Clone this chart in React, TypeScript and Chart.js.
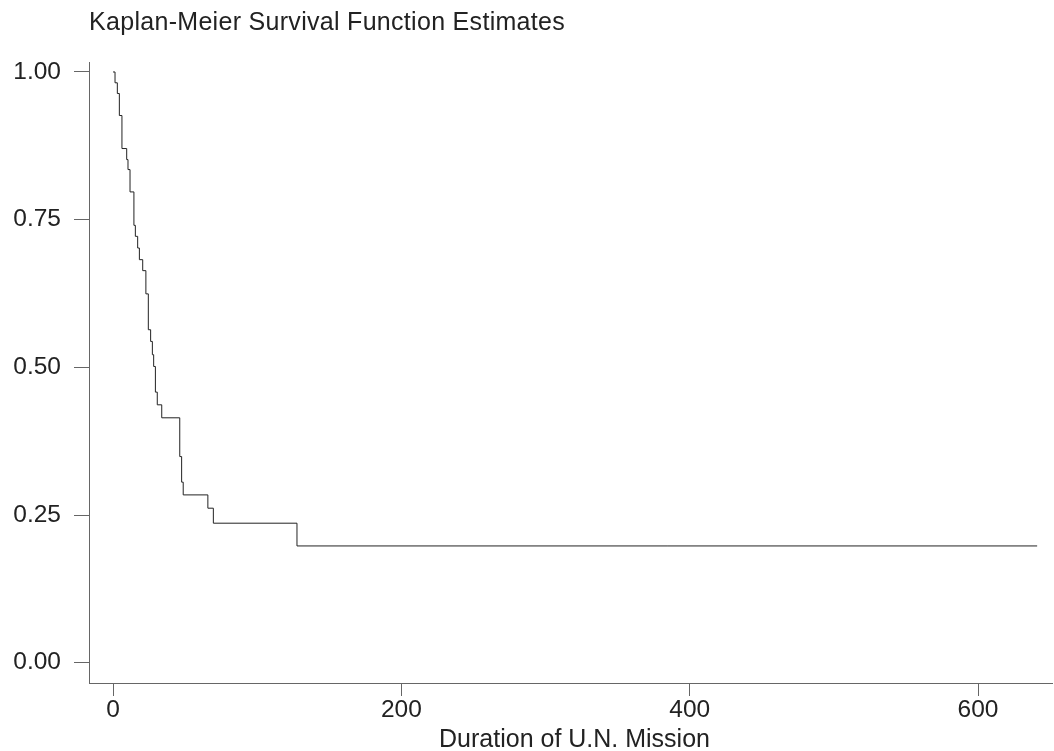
import React, { useEffect, useRef } from "react";
import { Chart, registerables } from "chart.js";

Chart.register(...registerables);

const chartTitle = "Kaplan-Meier Survival Function Estimates";
const xAxisTitle = "Duration of U.N. Mission";

const durations = [
  0, 1.4, 3, 4.4, 6.2, 9.5, 10.4, 11.8, 14.5, 15.5, 17.1, 18.3, 20.6, 22.8,
  24.5, 26.1, 27.3, 28.2, 29.4, 30.7, 33.8, 46.3, 47.6, 48.7, 65.8, 69.6,
  127.6, 641,
];
const survival = [
  1.0, 0.9817, 0.9636, 0.9263, 0.8704, 0.8517, 0.8348, 0.797, 0.7404, 0.7218,
  0.702, 0.6823, 0.6637, 0.6244, 0.5637, 0.5439, 0.5214, 0.5015, 0.4581,
  0.4366, 0.4146, 0.349, 0.3057, 0.2841, 0.2616, 0.2362, 0.1977, 0.1977,
];
const xTicks = [0, 200, 400, 600];
const yTicks = [0, 0.25, 0.5, 0.75, 1.0];

const FONT = '"Liberation Sans", Arial, Helvetica, sans-serif';

const titlePlugin = {
  id: "kmTitles",
  afterDraw(chart: any) {
    const { ctx, chartArea } = chart;
    ctx.save();
    ctx.fillStyle = "#222";
    ctx.textBaseline = "alphabetic";
    // chart title, left-aligned with the y axis
    ctx.font = `25px ${FONT}`;
    try {
      (ctx as any).letterSpacing = "0.3px";
    } catch (e) {}
    ctx.textAlign = "left";
    ctx.fillText(chartTitle, chartArea.left, 30);
    try {
      (ctx as any).letterSpacing = "0px";
    } catch (e) {}
    // x axis title
    ctx.font = `25px ${FONT}`;
    ctx.textAlign = "center";
    ctx.fillText(xAxisTitle, (chartArea.left + chartArea.right) / 2 + 4, 747);
    ctx.restore();
  },
};

export default function App() {
  const ref = useRef<HTMLCanvasElement | null>(null);

  useEffect(() => {
    if (!ref.current) return;
    const points = durations.map((t, i) => ({ x: t, y: survival[i] }));
    const chart = new Chart(ref.current, {
      type: "line",
      data: {
        datasets: [
          {
            data: points,
            stepped: "before",
            borderColor: "#222",
            borderWidth: 1,
            pointRadius: 0,
            fill: false,
          },
        ],
      },
      options: {
        animation: false,
        responsive: false,
        layout: { padding: { top: 62, right: 2, left: 0, bottom: 0 } },
        plugins: {
          legend: { display: false },
          tooltip: { enabled: false },
          title: { display: false },
        },
        scales: {
          x: {
            type: "linear",
            min: -16.65,
            max: 651.3,
            afterBuildTicks: (scale: any) => {
              scale.ticks = xTicks.map((v) => ({ value: v }));
            },
            afterFit: (scale: any) => {
              scale.height = 68;
            },
            border: { display: true, color: "#666", width: 1 },
            grid: {
              drawOnChartArea: false,
              drawTicks: true,
              tickLength: 13,
              tickColor: "#666",
              color: "#666",
            },
            ticks: {
              color: "#222",
              font: { family: FONT, size: 24.5 },
              padding: 0,
              maxRotation: 0,
              autoSkip: false,
              callback: (v: any) => String(v),
            },
          },
          y: {
            type: "linear",
            min: -0.0343,
            max: 1.0169,
            afterBuildTicks: (scale: any) => {
              scale.ticks = yTicks.map((v) => ({ value: v }));
            },
            afterFit: (scale: any) => {
              scale.width = 89;
            },
            border: { display: true, color: "#666", width: 1 },
            grid: {
              drawOnChartArea: false,
              drawTicks: true,
              tickLength: 15,
              tickColor: "#666",
              color: "#666",
            },
            ticks: {
              color: "#222",
              font: { family: FONT, size: 24.5 },
              padding: 13,
              autoSkip: false,
              callback: (v: any) => Number(v).toFixed(2),
            },
          },
        },
      },
      plugins: [titlePlugin],
    } as any);
    return () => chart.destroy();
  }, []);

  return (
    <div
      style={{
        position: "fixed",
        left: 0,
        top: 0,
        width: 1054,
        height: 751,
        background: "#fff",
      }}
    >
      <canvas ref={ref} width={1054} height={751} style={{ display: "block" }} />
    </div>
  );
}
